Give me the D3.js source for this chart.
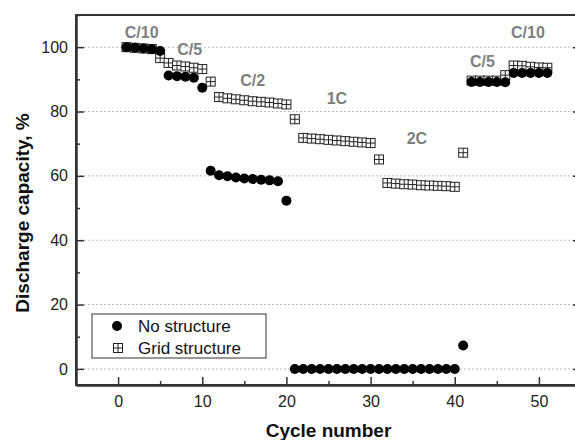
<!DOCTYPE html>
<html>
<head>
<meta charset="utf-8">
<script src="https://cdn.jsdelivr.net/npm/d3@7"></script>
<style>
  html, body { margin: 0; padding: 0; background: #fff; }
  svg { display: block; font-family: "Liberation Sans", Arial, sans-serif; }
</style>
</head>
<body>
<svg id="chart" width="575" height="440"></svg>
<script>
// Cycle index for both cells
const cycles = [1,2,3,4,5,6,7,8,9,10,11,12,13,14,15,16,17,18,19,20,
  21,22,23,24,25,26,27,28,29,30,31,32,33,34,35,36,37,38,39,40,
  41,42,43,44,45,46,47,48,49,50,51];

// Discharge capacity (% of initial) per cycle
const noStructure = [100,99.8,99.6,99.4,98.8, 91.2,91.0,90.8,90.5,87.4,
  61.6,60.2,59.9,59.5,59.2,59.0,58.8,58.6,58.3,52.3,
  0,0,0,0,0,0,0,0,0,0, 0,0,0,0,0,0,0,0,0,0,
  7.3,89.2,89.2,89.2,89.2,89.1, 92.0,92.0,92.0,92.0,92.0];

const gridStructure = [100,99.8,99.6,99.4,96.6, 95.1,94.3,94.0,93.6,93.2,
  89.3,84.5,84.1,83.8,83.5,83.2,83.0,82.8,82.5,82.2,
  77.6,71.8,71.6,71.4,71.2,71.0,70.8,70.6,70.4,70.2,
  65.1,57.8,57.6,57.4,57.3,57.1,57.0,56.9,56.8,56.6,
  67.2,89.6,89.6,89.6,89.6,91.3, 94.3,94.2,93.9,93.7,93.6];

// C-rate annotations: label, cycle, capacity at which the label sits
const rateLabels = ["C/10","C/5","C/2","1C","2C","C/5","C/10"];
const rateCycles = [2.8, 8.5, 16.0, 26.0, 35.5, 43.3, 48.7];
const rateValues = [104.6, 99.3, 89.7, 84.1, 71.7, 95.6, 104.6];

const xMajorTicks = [0,10,20,30,40,50];
const xMinorTicks = [-5,5,15,25,35,45,55];
const yMajorTicks = [0,20,40,60,80,100];
const yMinorTicks = [10,30,50,70,90,110];

const seriesNames = ["No structure","Grid structure"];

const svg = d3.select("#chart");
const plotLeft = 76, plotRight = 581, plotTop = 15, plotBottom = 385;

const x = d3.scaleLinear().domain([-5, 55]).range([plotLeft, plotRight]);
const y = d3.scaleLinear().domain([-5, 110]).range([plotBottom, plotTop]);

const axisColor = "#333";

// dotted horizontal grid
svg.append("g").selectAll("line").data(yMajorTicks).join("line")
  .attr("x1", plotLeft).attr("x2", plotRight)
  .attr("y1", d => y(d)).attr("y2", d => y(d))
  .attr("stroke", "#bdbdbd").attr("stroke-width", 1)
  .attr("stroke-dasharray", "2,2");

// frame
svg.append("rect")
  .attr("x", plotLeft).attr("y", plotTop)
  .attr("width", plotRight - plotLeft).attr("height", plotBottom - plotTop)
  .attr("fill", "none").attr("stroke", axisColor).attr("stroke-width", 2);

function styleAxis(g) {
  g.select(".domain").attr("stroke", axisColor).attr("stroke-width", 2);
  g.selectAll(".tick line").attr("stroke", axisColor).attr("stroke-width", 1.5);
  g.selectAll(".tick text").attr("fill", "#222").style("font-size", "16px");
}

// bottom axis, ticks pointing inward
svg.append("g").attr("transform", `translate(0,${plotBottom})`)
  .call(d3.axisBottom(x).tickValues(xMajorTicks).tickFormat(d3.format("d"))
    .tickSizeInner(-8).tickSizeOuter(0).tickPadding(11))
  .call(styleAxis);
svg.append("g").attr("transform", `translate(0,${plotBottom})`)
  .call(d3.axisBottom(x).tickValues(xMinorTicks).tickFormat("")
    .tickSizeInner(-4).tickSizeOuter(0))
  .call(styleAxis);

// left axis
svg.append("g").attr("transform", `translate(${plotLeft},0)`)
  .call(d3.axisLeft(y).tickValues(yMajorTicks).tickFormat(d3.format("d"))
    .tickSizeInner(-8).tickSizeOuter(0).tickPadding(8))
  .call(styleAxis);
svg.append("g").attr("transform", `translate(${plotLeft},0)`)
  .call(d3.axisLeft(y).tickValues(yMinorTicks).tickFormat("")
    .tickSizeInner(-4).tickSizeOuter(0))
  .call(styleAxis);

// right axis (ticks only)
svg.append("g").attr("transform", `translate(${plotRight},0)`)
  .call(d3.axisRight(y).tickValues(yMajorTicks).tickFormat("")
    .tickSizeInner(-8).tickSizeOuter(0))
  .call(styleAxis);
svg.append("g").attr("transform", `translate(${plotRight},0)`)
  .call(d3.axisRight(y).tickValues(yMinorTicks).tickFormat("")
    .tickSizeInner(-4).tickSizeOuter(0))
  .call(styleAxis);

// axis titles
svg.append("text")
  .attr("x", (plotLeft + plotRight) / 2).attr("y", 437)
  .attr("text-anchor", "middle")
  .style("font-size", "19px").style("font-weight", "bold").attr("fill", "#111")
  .text("Cycle number");

svg.append("text")
  .attr("transform", "translate(29,213) rotate(-90)")
  .attr("text-anchor", "middle")
  .style("font-size", "19px").style("font-weight", "bold").attr("fill", "#111")
  .text("Discharge capacity, %");

// grid-structure marker: open square with a cross
const sq = 9;
function gridMarker(sel) {
  sel.append("rect")
    .attr("x", -sq / 2).attr("y", -sq / 2).attr("width", sq).attr("height", sq)
    .attr("fill", "#fff").attr("stroke", "#222").attr("stroke-width", 1);
  sel.append("line").attr("x1", -sq / 2).attr("x2", sq / 2).attr("y1", 0).attr("y2", 0)
    .attr("stroke", "#222").attr("stroke-width", 1);
  sel.append("line").attr("y1", -sq / 2).attr("y2", sq / 2).attr("x1", 0).attr("x2", 0)
    .attr("stroke", "#222").attr("stroke-width", 1);
}

const plot = svg.append("g");

plot.append("g").selectAll("g").data(cycles).join("g")
  .attr("transform", (d, i) => `translate(${x(d)},${y(gridStructure[i])})`)
  .call(gridMarker);

plot.append("g").selectAll("circle").data(cycles).join("circle")
  .attr("cx", d => x(d))
  .attr("cy", (d, i) => y(noStructure[i]))
  .attr("r", 5)
  .attr("fill", "#000");

// C-rate labels
svg.append("g").selectAll("text").data(rateLabels).join("text")
  .attr("x", (d, i) => x(rateCycles[i]))
  .attr("y", (d, i) => y(rateValues[i]))
  .attr("text-anchor", "middle").attr("dominant-baseline", "central")
  .style("font-size", "16px").style("font-weight", "bold")
  .attr("fill", "#7f7f7f")
  .text(d => d);

// legend
const legend = svg.append("g").attr("transform", "translate(92,314)");
legend.append("rect")
  .attr("width", 174).attr("height", 44)
  .attr("fill", "#fff").attr("stroke", "#333").attr("stroke-width", 1);
legend.append("circle").attr("cx", 25).attr("cy", 12).attr("r", 5).attr("fill", "#000");
legend.append("g").attr("transform", "translate(26,34)").call(gridMarker);
legend.selectAll("text.lbl").data(seriesNames).join("text")
  .attr("class", "lbl")
  .attr("x", 46).attr("y", (d, i) => 12 + i * 22)
  .attr("dominant-baseline", "central")
  .style("font-size", "17px").attr("fill", "#111")
  .text(d => d);
</script>
</body>
</html>
